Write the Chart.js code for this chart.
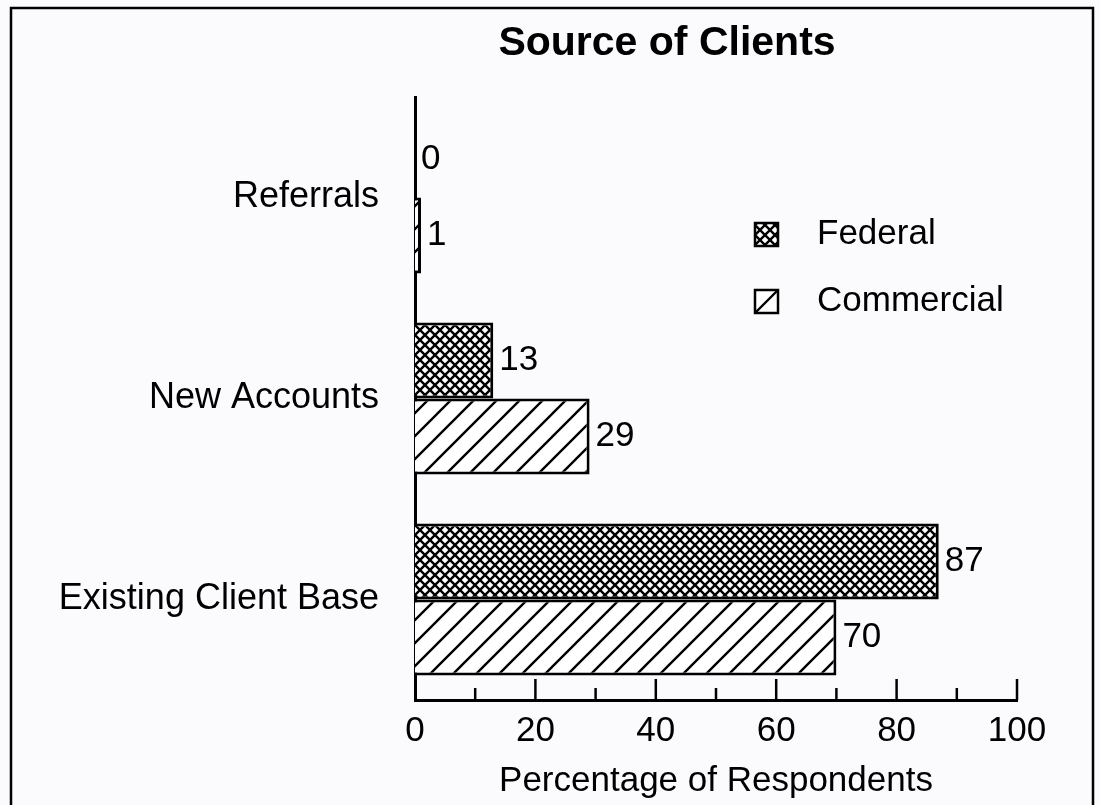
<!DOCTYPE html>
<html>
<head>
<meta charset="utf-8">
<script src="https://cdn.jsdelivr.net/npm/chart.js@4"></script>
<style>
  html, body { margin: 0; padding: 0; background: #fbfbfd; overflow: hidden; }
  #wrap { width: 1100px; height: 805px; }
</style>
</head>
<body>
<div id="wrap"><canvas id="chart" width="1100" height="805"></canvas></div>
<script>
const categories = ['Referrals', 'New Accounts', 'Existing Client Base'];
const federal = [0, 13, 87];
const commercial = [1, 29, 70];
const seriesNames = ['Federal', 'Commercial'];
const xMin = 0;
const xMax = 100;
const xStep = 10;
const chartTitle = 'Source of Clients';
const xTitle = 'Percentage of Respondents';

const FONT = "'Liberation Sans', Arial, Helvetica, sans-serif";
Chart.defaults.font.family = FONT;
Chart.defaults.color = '#000';

const canvas = document.getElementById('chart');
const ctx = canvas.getContext('2d');

// cross-hatch for Federal
function crossPattern() {
    const s = 10;
    const c = document.createElement('canvas');
    c.width = c.height = s;
    const g = c.getContext('2d');
    g.fillStyle = '#fff';
    g.fillRect(0, 0, s, s);
    g.strokeStyle = '#000';
    g.lineWidth = 2.4;
    g.beginPath();
    g.moveTo(0, 0); g.lineTo(s, s);
    g.moveTo(s, 0); g.lineTo(0, s);
    g.stroke();
    return ctx.createPattern(c, 'repeat');
}

// single diagonal hatch for Commercial
function slashPattern() {
    const s = 23;
    const c = document.createElement('canvas');
    c.width = c.height = s;
    const g = c.getContext('2d');
    g.fillStyle = '#fff';
    g.fillRect(0, 0, s, s);
    g.strokeStyle = '#000';
    g.lineWidth = 2.4;
    g.beginPath();
    g.moveTo(-2, s + 2); g.lineTo(s + 2, -2);
    g.moveTo(-2, 2); g.lineTo(2, -2);
    g.moveTo(s - 2, s + 2); g.lineTo(s + 2, s - 2);
    g.stroke();
    return ctx.createPattern(c, 'repeat');
}

const fedFill = crossPattern();
const comFill = slashPattern();

const framePlugin = {
    id: 'frame',
    beforeDraw(chart) {
        const c = chart.ctx;
        c.save();
        c.fillStyle = '#fbfbfd';
        c.fillRect(0, 0, chart.width, chart.height);
        c.strokeStyle = '#000';
        c.lineWidth = 2.5;
        c.strokeRect(11, 8, 1082, 900);
        c.restore();
    },
    afterDraw(chart) {
        const c = chart.ctx;
        c.save();
        c.fillStyle = '#000';
        c.font = 'bold 41px ' + FONT;
        c.textAlign = 'center';
        c.textBaseline = 'middle';
        c.fillText(chartTitle, 667, 44);
        c.restore();
    }
};

// tick marks drawn upward from the x axis
const innerTicks = {
    id: 'innerTicks',
    afterDraw(chart) {
        const x = chart.scales.x;
        const bottom = chart.chartArea.bottom;
        const c = chart.ctx;
        c.save();
        c.strokeStyle = '#000';
        c.lineWidth = 2.5;
        x.ticks.forEach(t => {
            if (t.value === xMin) return;
            const px = x.getPixelForValue(t.value);
            const len = t.value % 20 === 0 ? 21 : 12;
            c.beginPath();
            c.moveTo(px, bottom);
            c.lineTo(px, bottom - len);
            c.stroke();
        });
        c.restore();
    }
};

const valueLabels = {
    id: 'valueLabels',
    afterDatasetsDraw(chart) {
        const c = chart.ctx;
        c.save();
        c.fillStyle = '#000';
        c.font = '35px ' + FONT;
        c.textAlign = 'left';
        c.textBaseline = 'middle';
        chart.data.datasets.forEach((ds, i) => {
            chart.getDatasetMeta(i).data.forEach((bar, j) => {
                c.fillText(String(ds.data[j]), bar.x + 6, bar.y);
            });
        });
        c.restore();
    }
};

const boxLegend = {
    id: 'boxLegend',
    afterDraw(chart) {
        const c = chart.ctx;
        c.save();
        c.font = '35px ' + FONT;
        c.textBaseline = 'middle';
        c.textAlign = 'left';
        seriesNames.forEach((name, i) => {
            const bx = 755, by = 223 + i * 67, bs = 23;
            c.fillStyle = '#fff';
            c.fillRect(bx, by, bs, bs);
            if (i === 0) {
                c.fillStyle = fedFill;
                c.fillRect(bx, by, bs, bs);
            } else {
                c.strokeStyle = '#000';
                c.lineWidth = 2.4;
                c.beginPath();
                c.moveTo(bx, by + bs);
                c.lineTo(bx + bs, by);
                c.stroke();
            }
            c.strokeStyle = '#000';
            c.lineWidth = 2.5;
            c.strokeRect(bx, by, bs, bs);
            c.fillStyle = '#000';
            c.fillText(name, 817, by + bs / 2);
        });
        c.restore();
    }
};

new Chart(ctx, {
    type: 'bar',
    data: {
        labels: categories,
        datasets: [
            { label: seriesNames[0], data: federal, backgroundColor: fedFill },
            { label: seriesNames[1], data: commercial, backgroundColor: comFill }
        ]
    },
    options: {
        indexAxis: 'y',
        responsive: false,
        animation: false,
        layout: { padding: { top: 97, right: 83, bottom: 0, left: 0 } },
        datasets: {
            bar: {
                borderColor: '#000',
                borderWidth: 3,
                categoryPercentage: 0.756,
                barPercentage: 1
            }
        },
        plugins: {
            legend: { display: false },
            tooltip: { enabled: false },
            title: { display: false }
        },
        scales: {
            x: {
                min: xMin,
                max: xMax,
                afterFit(scale) { scale.height = 105; },
                grid: { display: false, drawTicks: false },
                border: { display: true, color: '#000', width: 3 },
                ticks: {
                    stepSize: xStep,
                    padding: 10,
                    autoSkip: false,
                    maxRotation: 0,
                    minRotation: 0,
                    font: { size: 35 },
                    color: '#000',
                    callback: v => (v % 20 === 0 ? String(v) : '')
                },
                title: {
                    display: true,
                    text: xTitle,
                    font: { size: 35 },
                    color: '#000',
                    padding: { top: 0, bottom: 3 }
                }
            },
            y: {
                afterFit(scale) { scale.width = 415; },
                grid: { display: false, drawTicks: false },
                border: { display: true, color: '#000', width: 3 },
                ticks: {
                    padding: 36,
                    font: { size: 36 },
                    color: '#000'
                }
            }
        }
    },
    plugins: [framePlugin, innerTicks, valueLabels, boxLegend]
});
</script>
</body>
</html>
